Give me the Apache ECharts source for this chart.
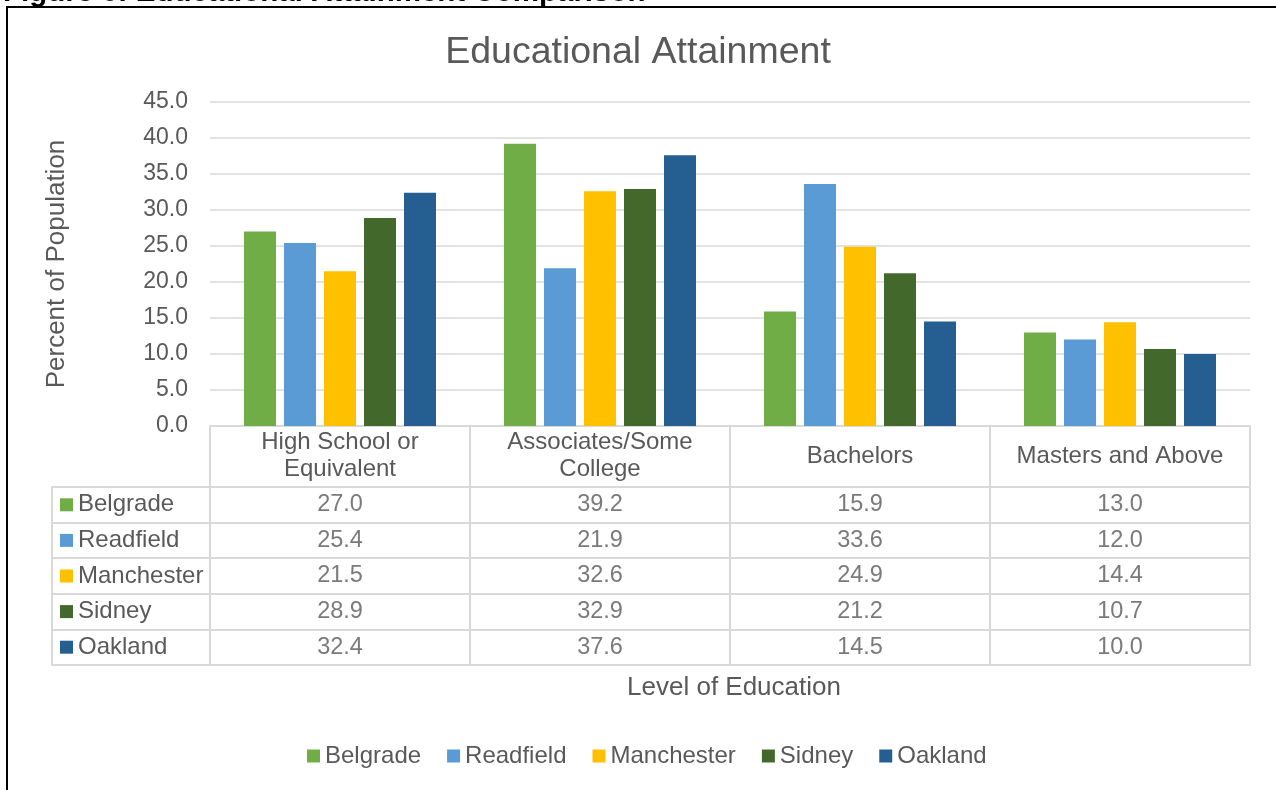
<!DOCTYPE html>
<html>
<head>
<meta charset="utf-8">
<script src="https://cdn.jsdelivr.net/npm/echarts@6/dist/echarts.min.js"></script>
<style>
html,body{margin:0;padding:0;background:#fff;}
#chart{width:1276px;height:790px;}
</style>
</head>
<body>
<div id="chart"></div>
<script>
var categories = ['High School or\nEquivalent', 'Associates/Some\nCollege', 'Bachelors', 'Masters and Above'];
var seriesNames = ['Belgrade', 'Readfield', 'Manchester', 'Sidney', 'Oakland'];
var belgrade   = [27.0, 39.2, 15.9, 13.0];
var readfield  = [25.4, 21.9, 33.6, 12.0];
var manchester = [21.5, 32.6, 24.9, 14.4];
var sidney     = [28.9, 32.9, 21.2, 10.7];
var oakland    = [32.4, 37.6, 14.5, 10.0];
var yTicks = { min: 0, max: 45, interval: 5 };
var colors = ['#70AD47', '#5B9BD5', '#FFC000', '#43682B', '#255E91'];

var seriesValues = [belgrade, readfield, manchester, sidney, oakland];
var FONT = 'Arial, "Liberation Sans", sans-serif';
var TXT = '#595959';
var LINE = '#D9D9D9';

var rich = { t: { fontSize: 24, color: TXT, fontFamily: FONT, padding: [0, 0, 0, 5] } };
colors.forEach(function (c, i) {
  rich['i' + i] = { width: 13, height: 13, backgroundColor: c };
});

var barSeries = seriesNames.map(function (n, i) {
  return {
    name: n,
    type: 'bar',
    xAxisIndex: 0,
    yAxisIndex: 0,
    data: seriesValues[i],
    barWidth: 32,
    barGap: '25%',
    itemStyle: { color: colors[i] },
    emphasis: { disabled: true }
  };
});

var cellData = [];
seriesValues.forEach(function (arr, si) {
  arr.forEach(function (v, ci) { cellData.push([ci, si, v]); });
});

var chart = echarts.init(document.getElementById('chart'), null, { renderer: 'canvas' });
chart.setOption({
  backgroundColor: '#fff',
  animation: false,
  textStyle: { fontFamily: FONT },
  title: [
    {
      text: 'Educational Attainment',
      left: 'center',
      top: 29,
      textStyle: { fontSize: 37.5, fontWeight: 'normal', color: TXT, fontFamily: FONT }
    },
    {
      text: 'Level of Education',
      left: 729,
      textAlign: 'center',
      top: 670,
      textStyle: { fontSize: 26, fontWeight: 'normal', color: TXT, fontFamily: FONT }
    }
  ],
  graphic: [
    { type: 'text', left: 3, top: -22, style: { text: 'Figure 6: Educational Attainment Comparison', font: 'bold 29.5px ' + FONT, fill: '#000' } },
    { type: 'line', shape: { x1: 6, y1: 7, x2: 1276, y2: 7 }, style: { stroke: '#000', lineWidth: 2 } },
    { type: 'line', shape: { x1: 7, y1: 6, x2: 7, y2: 790 }, style: { stroke: '#000', lineWidth: 2 } }
  ],
  legend: {
    data: seriesNames,
    left: 307,
    top: 744,
    icon: 'rect',
    itemWidth: 13,
    itemHeight: 13,
    itemGap: 26,
    padding: 0,
    textStyle: { fontSize: 24, color: TXT, fontFamily: FONT }
  },
  grid: [
    { left: 210, right: 26, top: 102, height: 324 },
    { left: 210, right: 26, top: 487, height: 178 }
  ],
  xAxis: [
    {
      type: 'category',
      gridIndex: 0,
      data: categories,
      axisLine: { show: true, lineStyle: { color: LINE, width: 2 } },
      axisTick: { show: true, length: 61, interval: 0, lineStyle: { color: LINE, width: 2 } },
      axisLabel: { interval: 0, margin: 30, verticalAlign: 'middle', fontSize: 24, lineHeight: 27, color: TXT, fontFamily: FONT },
      splitLine: { show: false }
    },
    {
      type: 'category',
      gridIndex: 1,
      data: categories,
      position: 'top',
      axisLine: { show: true, lineStyle: { color: LINE, width: 2 } },
      axisTick: { show: false },
      axisLabel: { show: false },
      splitLine: { show: true, interval: 0, lineStyle: { color: LINE, width: 2 } }
    }
  ],
  yAxis: [
    {
      type: 'value',
      gridIndex: 0,
      min: yTicks.min,
      max: yTicks.max,
      interval: yTicks.interval,
      name: 'Percent of Population',
      nameLocation: 'middle',
      nameGap: 140,
      nameTextStyle: { fontSize: 26, color: TXT, fontFamily: FONT },
      axisLine: { show: false },
      axisTick: { show: false },
      axisLabel: { fontSize: 23, color: TXT, margin: 22, fontFamily: FONT, padding: [3, 0, 0, 0], formatter: function (v) { return v.toFixed(1); } },
      splitLine: { show: true, lineStyle: { color: LINE, width: 1.5 } }
    },
    {
      type: 'category',
      gridIndex: 1,
      data: seriesNames,
      inverse: true,
      axisLine: { show: true, lineStyle: { color: LINE, width: 2 } },
      axisTick: { show: true, length: 158, interval: 0, lineStyle: { color: LINE, width: 2 } },
      axisLabel: {
        interval: 0,
        align: 'left',
        margin: 150,
        rich: rich,
        formatter: function (v, i) { return '{i' + i + '|}{t|' + v + '}'; }
      },
      splitLine: { show: true, interval: 0, lineStyle: { color: LINE, width: 2 } }
    },
    {
      type: 'value',
      gridIndex: 1,
      position: 'left',
      offset: 158,
      axisLine: { show: true, onZero: false, lineStyle: { color: LINE, width: 2 } },
      axisTick: { show: false },
      axisLabel: { show: false },
      splitLine: { show: false }
    },
    {
      type: 'value',
      gridIndex: 1,
      position: 'right',
      axisLine: { show: true, onZero: false, lineStyle: { color: LINE, width: 2 } },
      axisTick: { show: false },
      axisLabel: { show: false },
      splitLine: { show: false }
    }
  ],
  series: barSeries.concat([
    {
      type: 'scatter',
      xAxisIndex: 1,
      yAxisIndex: 1,
      symbolSize: 1,
      itemStyle: { color: 'rgba(0,0,0,0)' },
      silent: true,
      data: cellData,
      label: {
        show: true,
        position: 'inside',
        fontSize: 23.5,
        color: TXT,
        fontFamily: FONT,
        formatter: function (p) { return p.value[2].toFixed(1); }
      }
    }
  ])
});
</script>
</body>
</html>
